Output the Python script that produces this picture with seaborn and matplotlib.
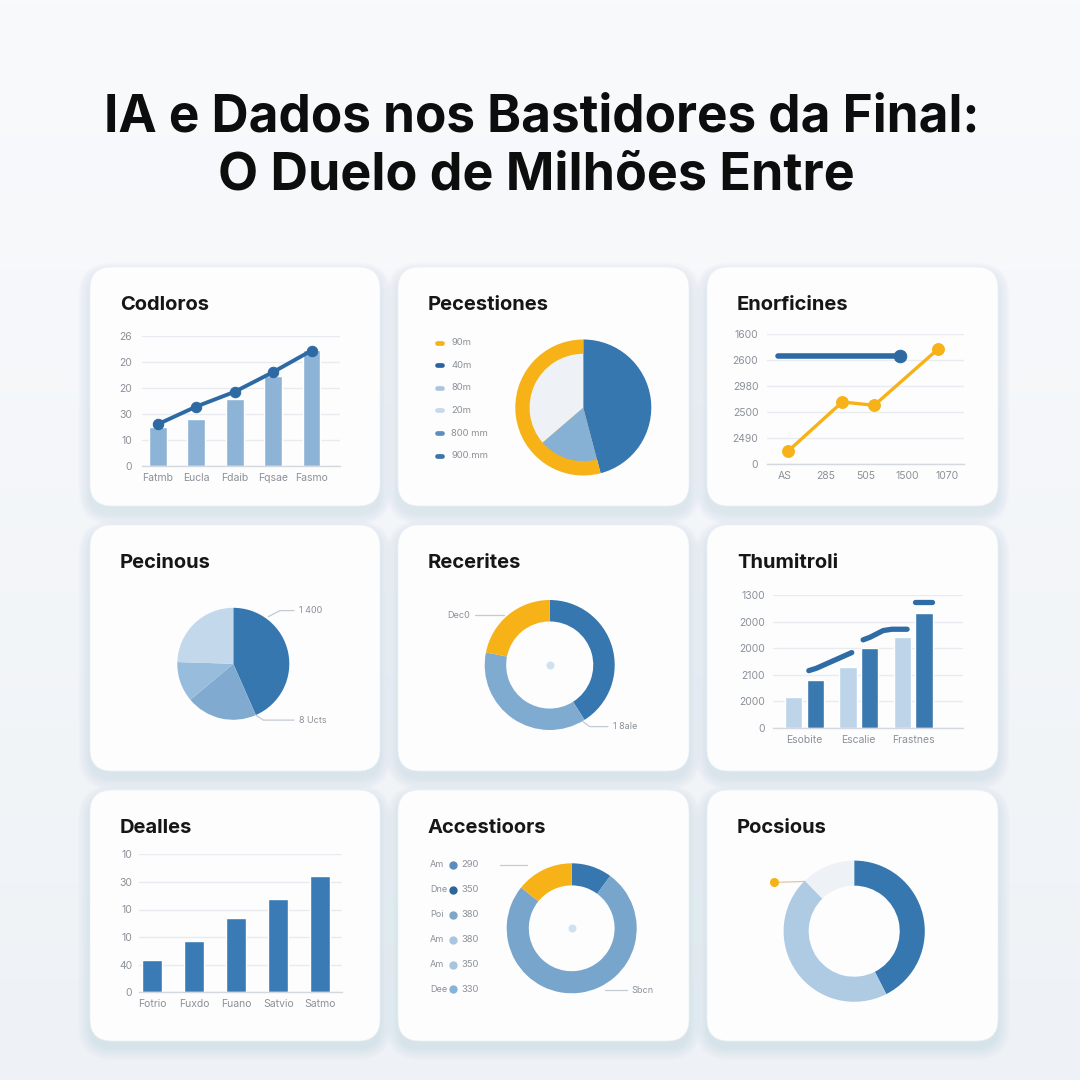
import numpy as np
import pandas as pd
import seaborn as sns
import matplotlib.pyplot as plt
from matplotlib.patches import FancyBboxPatch
from matplotlib.colors import LinearSegmentedColormap

sns.set_theme(style="white")
plt.rcParams['font.family'] = ['Inter', 'DejaVu Sans']

# ---- values ----
title_lines = ["IA e Dados nos Bastidores da Final:", "O Duelo de Milhões Entre"]
card_titles = ["Codloros", "Pecestiones", "Enorficines",
               "Pecinous", "Recerites", "Thumitroli",
               "Dealles", "Accestioors", "Pocsious"]

p1_cats = ["Fatmb", "Eucla", "Fdaib", "Fqsae", "Fasmo"]
p1_bars = [14.8, 18.0, 25.8, 34.6, 44.7]
p1_line = [16.0, 22.8, 28.5, 36.1, 44.4]
p1_ylabels = ["0", "10", "30", "20", "20", "26"]

p2_legend = ["90m", "40m", "80m", "20m", "800 mm", "900.mm"]
p2_outer = [45.9, 54.1]
p2_inner = [45.9, 17.8, 36.3]

p3_xlabels = ["AS", "285", "505", "1500", "1070"]
p3_ylabels = ["0", "2490", "2500", "2980", "2600", "1600"]
p3_blue_x = [-0.16, 2.83]
p3_blue_y = [2490, 2490]
p3_orange_x = [0.08, 1.41, 2.20, 3.78]
p3_orange_y = [300, 1430, 1355, 2660]

p4_share = [43.4, 20.5, 11.6, 24.5]
p4_notes = ["1 400", "8 Ucts"]

p5_share = [41.0, 37.1, 21.9]
p5_notes = ["Dec0", "1 8ale"]

p6_cats = ["Esobite", "Escalie", "Frastnes"]
p6_light = [1.15, 2.30, 3.41]
p6_dark = [1.79, 3.01, 4.32]
p6_ylabels = ["0", "2000", "2100", "2000", "2000", "1300"]
p6_seg1_x = [0.08, 0.22, 0.87]
p6_seg1_y = [2.15, 2.24, 2.83]
p6_seg2_x = [1.08, 1.21, 1.45, 1.61, 1.89]
p6_seg2_y = [3.31, 3.41, 3.66, 3.71, 3.71]
p6_seg3_x = [2.04, 2.35]
p6_seg3_y = [4.72, 4.72]

p7_cats = ["Fotrio", "Fuxdo", "Fuano", "Satvio", "Satmo"]
p7_vals = [1.17, 1.87, 2.68, 3.38, 4.21]
p7_ylabels = ["0", "40", "10", "10", "30", "10"]

p8_names = ["Am", "Dne", "Poi", "Am", "Am", "Dee"]
p8_values = ["290", "350", "380", "380", "350", "330"]
p8_share = [10.1, 75.7, 14.2]
p8_note = "Sbcn"

p9_share = [42.5, 45.2, 12.3]

# ---- colours ----
BLUE = '#3677b0'
DARK = '#2d6aa3'
LIGHT = '#c3d8eb'
PALE = '#eef2f7'
ORANGE = '#f7b217'
TICK = '#8b9198'
GRID = '#e8ecf0'
LEAD = '#c3cad2'

W = 1080
fig = plt.figure(figsize=(10.8, 10.8), dpi=100)
fig.patch.set_facecolor('#f2f5f8')

# background layer in pixel coordinates
bg = fig.add_axes([0, 0, 1, 1], zorder=-10)
grad = np.linspace(0, 1, 256)[:, None]
bg.imshow(grad, extent=[0, W, W, 0], aspect='auto',
          cmap=LinearSegmentedColormap.from_list('bg', ['#f9fafc', '#eef2f6']))
bg.set_xlim(0, W)
bg.set_ylim(W, 0)
bg.axis('off')

bg.text(542, 132, title_lines[0], fontsize=37, fontweight='bold', ha='center',
        va='baseline', color='#0d0d0d')
bg.text(536, 190, title_lines[1], fontsize=37.5, fontweight='bold', ha='center',
        va='baseline', color='#0d0d0d')

col_x = [(90, 380), (398, 689), (707, 998)]
row_y = [(267, 506), (525, 771), (790, 1041)]
i = 0
for (y0, y1) in row_y:
    for (x0, x1) in col_x:
        for k in range(12, 0, -1):
            bg.add_patch(FancyBboxPatch((x0 - k, y0 - k + 7), (x1 - x0) + 2 * k, (y1 - y0) + 2 * k,
                                        boxstyle=f"round,pad=0,rounding_size={22 + k}",
                                        fc='#7f9ab8', ec='none', alpha=0.011, zorder=1))
        bg.add_patch(FancyBboxPatch((x0, y0), x1 - x0, y1 - y0,
                                    boxstyle="round,pad=0,rounding_size=22",
                                    fc='#fdfdfe', ec='#eef1f5', lw=0.5, zorder=2))
        bg.text(x0 + 30, y0 + 43, card_titles[i], fontsize=14.5, fontweight='bold',
                color='#161616', va='baseline', zorder=3)
        i += 1


def px_axes(x0, y0, x1, y1):
    ax = fig.add_axes([x0 / W, 1 - y1 / W, (x1 - x0) / W, (y1 - y0) / W])
    ax.set_facecolor('none')
    return ax


def style_cart(ax, ylabels, ymax, pad):
    ax.set_ylim(0, ymax)
    ax.set_yticks(np.linspace(0, ymax, len(ylabels)))
    ax.set_yticklabels(ylabels)
    ax.grid(axis='y', color=GRID, lw=1.0)
    ax.grid(axis='x', visible=False)
    ax.set_axisbelow(True)
    sns.despine(ax=ax, left=True)
    ax.spines['bottom'].set_color('#d3d9df')
    ax.spines['bottom'].set_linewidth(1.0)
    ax.tick_params(axis='both', length=0, labelsize=7.5, labelcolor=TICK)
    ax.tick_params(axis='y', pad=pad)
    ax.tick_params(axis='x', pad=5)
    ax.set_xlabel('')
    ax.set_ylabel('')


def pie_axes(cx, cy, R):
    return px_axes(cx - R, cy - R, cx + R, cy + R)


def leader(ax, R, theta, r, path, text=None, ha='left', color=LEAD):
    # path: offsets in pixels (dx right, dy down) from the start point on the ring
    sx, sy = r * np.cos(np.radians(theta)), r * np.sin(np.radians(theta))
    xs = [sx] + [sx + dx / R for dx, dy in path]
    ys = [sy] + [sy - dy / R for dx, dy in path]
    ax.plot(xs, ys, color=color, lw=0.9, clip_on=False)
    if text:
        off = 5 / R if ha == 'left' else -5 / R
        ax.text(xs[-1] + off, ys[-1], text, ha=ha, va='center', fontsize=6.5, color=TICK)
    return xs[-1], ys[-1]


# ---- 1: bars + line ----
ax = px_axes(141.7, 336, 340, 465.7)
df1 = pd.DataFrame({'cat': p1_cats, 'val': p1_bars})
sns.barplot(data=df1, x='cat', y='val', color='#8db4d7', saturation=1, width=0.46, ax=ax)
sns.lineplot(x=np.arange(len(p1_line)), y=p1_line, color=DARK, lw=2.8, marker='o', ms=7.5,
             mec=DARK, ax=ax, clip_on=False, zorder=3)
style_cart(ax, p1_ylabels, 50, 7)
ax.set_xlim(-0.42, 4.74)

# ---- 2: pie with ring ----
ax = pie_axes(583.3, 407.5, 68)
ax.pie(p2_outer, colors=[BLUE, ORANGE], startangle=90, counterclock=False, radius=1,
       wedgeprops=dict(lw=0))
ax.pie(p2_inner, colors=[BLUE, '#86b0d4', PALE], startangle=90, counterclock=False,
       radius=0.79, wedgeprops=dict(lw=0))
ax.set_xlim(-1, 1)
ax.set_ylim(-1, 1)

lg = px_axes(430, 331.4, 520, 467)
lg.axis('off')
lg.set_xlim(0, 90)
lg.set_ylim(5.5, -0.5)
p2_colors = [ORANGE, '#2a64a0', '#a9c5e0', '#c8d9ea', '#5c8fc0', '#3b74a8']
for j, (lab, c) in enumerate(zip(p2_legend, p2_colors)):
    lg.plot([6.5, 12], [j, j], lw=3.4, color=c, solid_capstyle='round')
    lg.text(21, j, lab, va='center', fontsize=6.8, color=TICK)

# ---- 3: line chart ----
ax = px_axes(766.7, 334, 964, 464)
sns.lineplot(x=p3_orange_x, y=p3_orange_y, color=ORANGE, lw=2.4, marker='o', ms=8.5,
             mec=ORANGE, ax=ax, clip_on=False)
sns.lineplot(x=p3_blue_x, y=p3_blue_y, color=DARK, lw=4, marker='o', markevery=[1], ms=9,
             mec=DARK, ax=ax, solid_capstyle='round', clip_on=False)
style_cart(ax, p3_ylabels, 3000, 6)
ax.set_xticks(range(len(p3_xlabels)))
ax.set_xticklabels(p3_xlabels)
ax.set_xlim(-0.45, 4.41)

# ---- 4: pie ----
ax = pie_axes(233.3, 663.8, 56)
ax.pie(p4_share, colors=[BLUE, '#80aad0', '#98bcdc', LIGHT], startangle=90,
       counterclock=False, radius=1, wedgeprops=dict(lw=0))
ax.set_xlim(-1, 1)
ax.set_ylim(-1, 1)
leader(ax, 56, 53.4, 1.05, [(11.7, -6), (25.7, -6)], p4_notes[0])
leader(ax, 56, -66.4, 1.0, [(7.6, 5), (38.3, 5)], p4_notes[1])

# ---- 5: donut ----
ax = pie_axes(549.7, 665, 65)
ax.pie(p5_share, colors=[BLUE, '#80abd0', ORANGE], startangle=90, counterclock=False,
       radius=1, wedgeprops=dict(width=0.33, lw=0))
ax.scatter([0], [0], s=33, color='#cfe0ee', lw=0)
ax.set_xlim(-1, 1)
ax.set_ylim(-1, 1)
leader(ax, 65, 132.4, 1.04, [(-29, 0)], p5_notes[0], ha='right')
leader(ax, 65, -59.6, 1.01, [(7, 5), (25, 5)], p5_notes[1])

# ---- 6: grouped bars + trend ----
ax = px_axes(773, 595, 963, 727.7)
df6 = pd.DataFrame({'cat': p6_cats * 2,
                    'grp': ['a'] * len(p6_cats) + ['b'] * len(p6_cats),
                    'val': p6_light + p6_dark})
sns.barplot(data=df6, x='cat', y='val', hue='grp', palette=['#bdd4e9', '#3a78b0'],
            width=0.8, gap=0.2, saturation=1, legend=False, ax=ax)
for sx, sy in [(p6_seg1_x, p6_seg1_y), (p6_seg2_x, p6_seg2_y), (p6_seg3_x, p6_seg3_y)]:
    ax.plot(sx, sy, color='#2f6ba5', lw=3.8, solid_capstyle='round',
            solid_joinstyle='round', clip_on=False, zorder=3)
style_cart(ax, p6_ylabels, 5, 6)
ax.set_xlim(-0.58, 2.92)

# ---- 7: bars ----
ax = px_axes(139.3, 854.3, 341.7, 992.3)
df7 = pd.DataFrame({'cat': p7_cats, 'val': p7_vals})
sns.barplot(data=df7, x='cat', y='val', color='#3a7bb5', saturation=1, width=0.47, ax=ax)
style_cart(ax, p7_ylabels, 5, 5)
ax.set_xlim(-0.31, 4.51)

# ---- 8: donut + list ----
ax = pie_axes(571.7, 928.3, 65)
ax.pie(p8_share, colors=[BLUE, '#78a5cb', ORANGE], startangle=90, counterclock=False,
       radius=1, wedgeprops=dict(width=0.34, lw=0))
ax.scatter([0], [0], s=33, color='#cfe0ee', lw=0)
ax.set_xlim(-1, 1)
ax.set_ylim(-1, 1)
leader(ax, 65, 125.4, 1.19, [(-26.7, 0)])
leader(ax, 65, -61.6, 1.08, [(21.7, 0)], p8_note)

lg = px_axes(428, 852.5, 490, 1001.9)
lg.axis('off')
lg.set_xlim(0, 62)
lg.set_ylim(5.5, -0.5)
p8_colors = ['#5a8cbf', '#2f6697', '#7ea6c8', '#aac6df', '#a8c5e0', '#87b3d9']
for j, (nm, val, c) in enumerate(zip(p8_names, p8_values, p8_colors)):
    lg.text(2, j, nm, va='center', fontsize=6.5, color=TICK)
    lg.plot([25.3], [j], 'o', ms=5, color=c)
    lg.text(33.7, j, val, va='center', fontsize=6.8, color=TICK)

# ---- 9: donut ----
ax = pie_axes(854.2, 931.2, 70.6)
ax.pie(p9_share, colors=[BLUE, '#aecbe3', PALE], startangle=90, counterclock=False,
       radius=1, wedgeprops=dict(width=0.355, lw=0))
ax.set_xlim(-1, 1)
ax.set_ylim(-1, 1)
ex, ey = leader(ax, 70.6, 134.6, 0.99, [(-30.7, 1)], color='#dcc8a8')
ax.plot([ex], [ey], 'o', ms=5.5, color=ORANGE, clip_on=False)

fig.savefig('out.png', dpi=100, facecolor=fig.get_facecolor())
